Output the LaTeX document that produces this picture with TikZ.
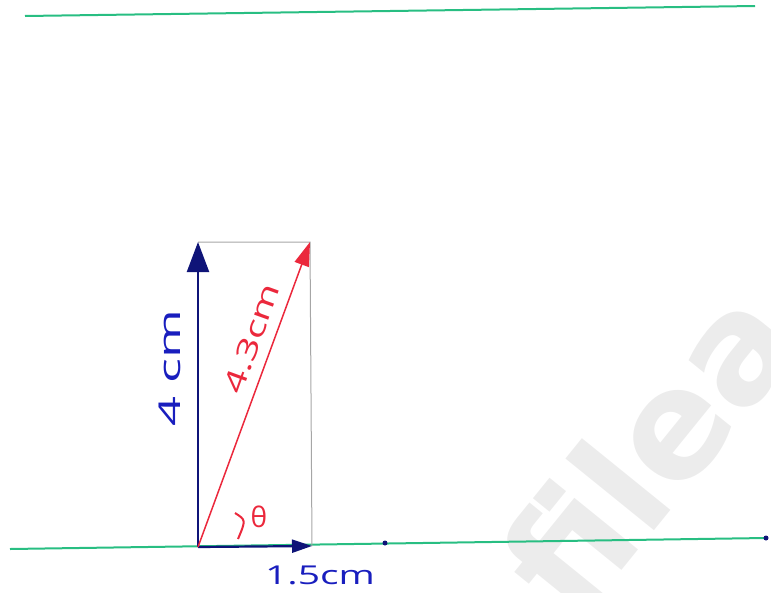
\documentclass[tikz,border=0pt]{standalone}
\usepackage{fontspec}
\setmainfont{Open Sans}
\newfontfamily\wmfont{DejaVu Sans}
\usetikzlibrary{arrows.meta}
\definecolor{gline}{RGB}{40,190,130}
\definecolor{navyv}{RGB}{15,20,120}
\definecolor{bluetxt}{RGB}{25,30,190}
\definecolor{redv}{RGB}{235,40,60}
\definecolor{wm}{RGB}{236,236,236}
\tikzset{
  guide/.style={draw=gline, line width=2pt},
  navyvec/.style={draw=navyv, line width=2.2pt},
  redvec/.style={draw=redv, line width=1.5pt},
  boxline/.style={draw=gray!70, line width=1pt},
  bluelab/.style={text=bluetxt, font=\fontsize{30}{30}\selectfont},
  redlab/.style={text=redv, font=\fontsize{28}{28}\selectfont},
}
\begin{document}
\begin{tikzpicture}[x=1pt,y=-1pt]
\useasboundingbox (0,0) rectangle (771,592);
\begin{scope}
\clip (0,0) rectangle (771,592);
\node[text=wm, font=\wmfont\bfseries\fontsize{150}{150}\selectfont, rotate=51, anchor=base west, inner sep=0pt] (wmark) at (576,627) {filea};
\end{scope}
% guide lines
\coordinate (t1) at (25,16);
\coordinate (t2) at (755,6);
\draw[guide] (t1) -- (t2);
\coordinate (b1) at (10,549);
\coordinate (b2) at (766,538);
\draw[guide] (b1) -- (b2);
\fill[navyv] (b2) circle (2.5);
\fill[navyv] (385,543) circle (2.5);
% points
\coordinate (O) at (198,547);
\coordinate (A) at (198,242);
\coordinate (B) at (312,546);
\coordinate (C) at (310,242);
% rectangle
\draw[boxline] (A) -- (C) -- (B);
% vectors
\draw[navyvec, -{Triangle[length=30pt,width=22pt]}] (O) -- (A);
\draw[navyvec, -{Triangle[length=20pt,width=13pt]}] (O) -- (B);
\draw[redvec, -{Triangle[length=24pt,width=15pt]}] (O) -- (C);
% angle arc
\coordinate (a1) at (235,513);
\coordinate (a2) at (238,539);
\draw[redv, line width=2pt] (a1) .. controls (246,520) .. (a2);
% labels
\node[bluelab, rotate=90] (l4) at (170,368) {\scalebox{1.75}[1]{4 cm}};
\node[redlab, rotate=70.2] (l43) at (252,338) {\scalebox{1.45}[1]{4.3cm}};
\node[redlab, font=\fontsize{28}{28}\selectfont] (th) at (259,517) {θ};
\node[bluelab, font=\fontsize{26}{26}\selectfont] (l15) at (320,575) {\scalebox{1.5}[1]{1.5cm}};
\end{tikzpicture}
\end{document}
